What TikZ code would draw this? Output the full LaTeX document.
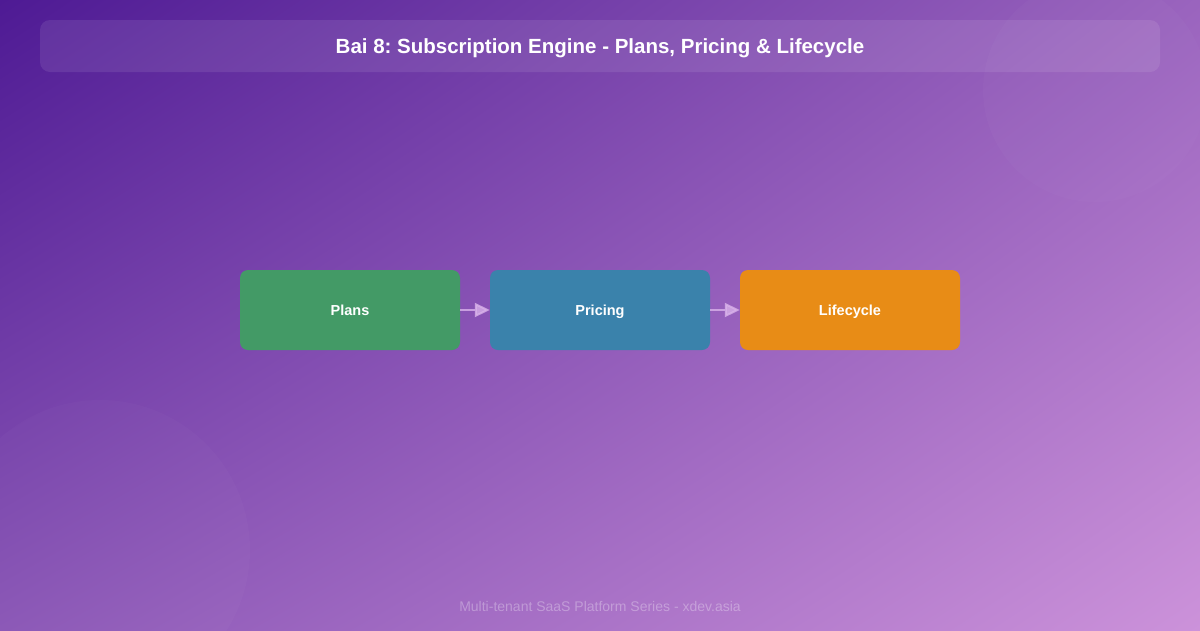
\documentclass[tikz,border=0pt]{standalone}
\usepackage{fontspec}
\setmainfont{Liberation Sans}
\frenchspacing
\usetikzlibrary{arrows.meta,shadings}
\definecolor{bgTL}{HTML}{4E1A94}
\definecolor{bgTR}{HTML}{9A64BE}
\definecolor{bgBL}{HTML}{8A56B6}
\definecolor{bgBR}{HTML}{CC92DA}
\definecolor{cgreen}{HTML}{439A66}
\definecolor{cblue}{HTML}{3A82AB}
\definecolor{corange}{HTML}{E88C16}
\definecolor{carrow}{HTML}{D9B2EA}
\tikzset{
  stagebox/.style={rounded corners=8pt, minimum width=220pt, minimum height=80pt, inner sep=0pt,
    text=white, font=\bfseries\fontsize{14.5}{16}\selectfont, text height=10.5pt, text depth=0pt},
  flow/.style={draw=carrow, line width=2pt, -{Triangle[length=15pt,width=14pt]}, opacity=0.8}
}
\begin{document}
\begin{tikzpicture}[x=1pt,y=-1pt]
\useasboundingbox (0,0) rectangle (1200,630);
\shade[upper left=bgTL, upper right=bgTR, lower left=bgBL, lower right=bgBR] (0,0) rectangle (1200,630);
\fill[white, opacity=0.02] (1095,90) circle (112);
\fill[white, opacity=0.018] (100,550) circle (150);
\node[fill=white, fill opacity=0.09, rounded corners=10pt, minimum width=1120pt, minimum height=52pt, inner sep=0pt] (bar) at (600,46) {};
\node[text=white, font=\bfseries\fontsize{20.5}{22}\selectfont, text height=14.5pt, text depth=0pt] (title) at (600,46) {Bai 8: Subscription Engine - Plans, Pricing \& Lifecycle};
\node[stagebox, fill=cgreen] (plans) at (350,310) {Plans};
\node[stagebox, fill=cblue] (pricing) at (600,310) {Pricing};
\node[stagebox, fill=corange] (life) at (850,310) {Lifecycle};
\draw[flow] (plans.east) -- (pricing.west);
\draw[flow] (pricing.east) -- (life.west);
\node[text=white, text opacity=0.3, font=\fontsize{14}{16}\selectfont] (foot) at (600,606) {Multi-tenant SaaS Platform Series - xdev.asia};
\end{tikzpicture}
\end{document}
